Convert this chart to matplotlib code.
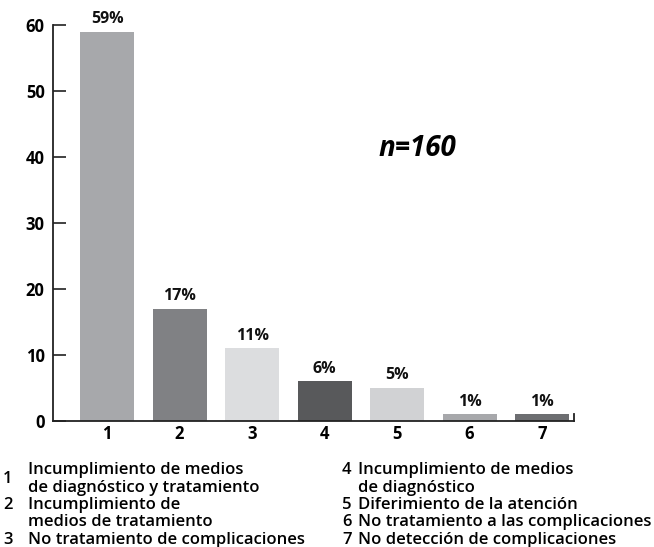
import matplotlib.pyplot as plt
import numpy as np

categories = ['1', '2', '3', '4', '5', '6', '7']
values = [59, 17, 11, 6, 5, 1, 1]
pct_labels = ['59%', '17%', '11%', '6%', '5%', '1%', '1%']
bar_colors = ['#a7a8ab', '#808184', '#dcdddf', '#58595b', '#d1d2d4', '#a7a8ab', '#6d6e71']
y_ticks = [0, 10, 20, 30, 40, 50, 60]

legend_left = [
    ('1', ['Incumplimiento de medios', 'de diagnóstico y tratamiento']),
    ('2', ['Incumplimiento de', 'medios de tratamiento']),
    ('3', ['No tratamiento de complicaciones']),
]
legend_right = [
    ('4', ['Incumplimiento de medios', 'de diagnóstico']),
    ('5', ['Diferimiento de la atención']),
    ('6', ['No tratamiento a las complicaciones']),
    ('7', ['No detección de complicaciones']),
]

plt.rcParams['font.family'] = ['Open Sans', 'DejaVu Sans']

W, H = 654, 547
fig = plt.figure(figsize=(W / 100, H / 100), dpi=100)
ax = fig.add_axes([53 / W, 1 - 421 / H, (574 - 53) / W, (421 - 25) / H])

x = np.arange(1, len(values) + 1)
bars = ax.bar(x, values, width=0.745, color=bar_colors, zorder=2)
for b, lab in zip(bars, pct_labels):
    ax.annotate(lab, (b.get_x() + b.get_width() / 2, b.get_height()),
                xytext=(0, 3.5), textcoords='offset points', ha='center', va='bottom',
                fontsize=11.5, fontweight='bold', color='#111111')

ax.set_xlim(0.255, 7.44)
ax.set_ylim(0, 60)
ax.set_yticks(y_ticks)
ax.set_xticks(x)
ax.set_xticklabels(categories)
ax.tick_params(axis='y', direction='in', length=9, width=1.3, color='#333333',
               labelsize=12, pad=6)
ax.tick_params(axis='x', length=0, labelsize=12, pad=3)
for lab in ax.get_yticklabels() + ax.get_xticklabels():
    lab.set_fontweight('bold')

ax.spines['top'].set_visible(False)
ax.spines['right'].set_bounds(0, 1.1)
for s in ['left', 'bottom', 'right']:
    ax.spines[s].set_linewidth(1.3)
    ax.spines[s].set_color('#222222')

ax.text(0.699, 0.687, 'n=160', transform=ax.transAxes, fontsize=20,
        fontweight='bold', style='italic', ha='center', va='center')

fs = 12
line_h = 17.5
def draw_legend(items, x_num, x_txt, y0):
    y = y0
    for num, lines in items:
        if len(lines) == 2 and num == '1':
            fig.text(x_num / W, 1 - (y + line_h / 2) / H, num, fontsize=fs,
                     fontweight='semibold', va='baseline')
        else:
            fig.text(x_num / W, 1 - y / H, num, fontsize=fs,
                     fontweight='semibold', va='baseline')
        for ln in lines:
            fig.text(x_txt / W, 1 - y / H, ln, fontsize=fs, fontweight='semibold',
                     va='baseline')
            y += line_h

draw_legend(legend_left, 3, 28, 474)
draw_legend(legend_right, 342, 358, 474)

fig.savefig('out.png', dpi=100)
